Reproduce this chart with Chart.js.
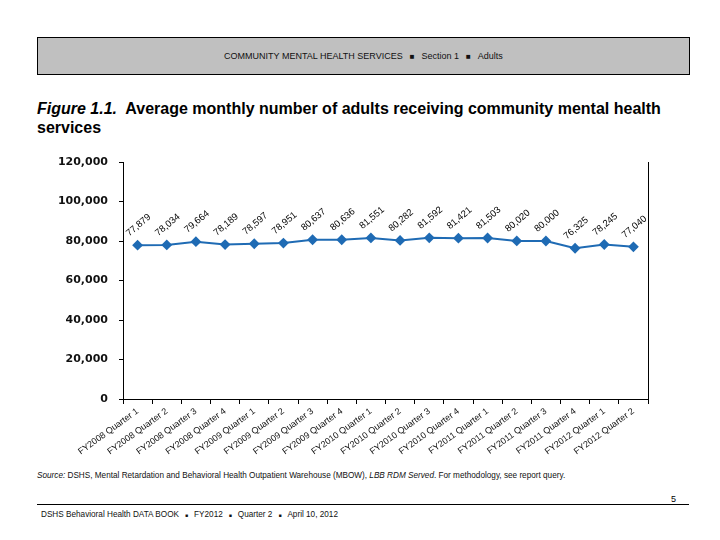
<!DOCTYPE html>
<html>
<head>
<meta charset="utf-8">
<script src="https://cdn.jsdelivr.net/npm/chart.js@4.4.1/dist/chart.umd.min.js"></script>
<style>
    body { margin: 0; width: 720px; height: 540px; background: #fff; position: relative; font-family: "Liberation Sans", Arial, sans-serif; overflow: hidden; }
    #header { position: absolute; left: 37px; top: 37px; width: 651px; height: 36px; background: #c0c0c0; border: 1px solid #000; font-size: 9px; line-height: 36px; text-align: center; color: #111; }
    #header .sq { font-size: 8px; margin: 0 7px; }
    #titulo { position: absolute; left: 37px; top: 99px; width: 640px; font-size: 16px; font-weight: bold; line-height: 19px; color: #000; }
    #grafico { position: absolute; left: 0; top: 140px; }
    #fuente { position: absolute; left: 37px; top: 471px; font-size: 8.2px; color: #111; }
    #linea { position: absolute; left: 37px; top: 504px; width: 652px; border-top: 1px solid #000; }
    #pagina { position: absolute; left: 671px; top: 494px; font-size: 9px; }
    #pie { position: absolute; left: 41px; top: 510px; font-size: 8.2px; color: #111; }
    #pie .sq { font-size: 5px; margin: 0 6px; vertical-align: middle; }
</style>
</head>
<body>
<div id="header">COMMUNITY MENTAL HEALTH SERVICES<span class="sq">&#9632;</span>Section 1<span class="sq">&#9632;</span>Adults</div>
<div id="titulo"><i>Figure 1.1.</i>&nbsp; Average monthly number of adults receiving community mental health services</div>
<canvas id="grafico" width="720" height="320"></canvas>
<div id="fuente"><i>Source:</i> DSHS, Mental Retardation and Behavioral Health Outpatient Warehouse (MBOW), <i>LBB RDM Served</i>. For methodology, see report query.</div>
<div id="linea"></div>
<div id="pagina">5</div>
<div id="pie">DSHS Behavioral Health DATA BOOK<span class="sq">&#9632;</span>FY2012<span class="sq">&#9632;</span>Quarter 2<span class="sq">&#9632;</span>April 10, 2012</div>
<script>
const trimestres = [
    "FY2008 Quarter 1", "FY2008 Quarter 2", "FY2008 Quarter 3", "FY2008 Quarter 4",
    "FY2009 Quarter 1", "FY2009 Quarter 2", "FY2009 Quarter 3", "FY2009 Quarter 4",
    "FY2010 Quarter 1", "FY2010 Quarter 2", "FY2010 Quarter 3", "FY2010 Quarter 4",
    "FY2011 Quarter 1", "FY2011 Quarter 2", "FY2011 Quarter 3", "FY2011 Quarter 4",
    "FY2012 Quarter 1", "FY2012 Quarter 2"
]
const adultosAtendidos = [
    77879, 78034, 79664, 78189, 78597, 78951, 80637, 80636, 81551,
    80282, 81592, 81421, 81503, 80020, 80000, 76325, 78245, 77040
]
const ejeYMin = 0
const ejeYMax = 120000
const ejeYPaso = 20000

const azul = '#1f6bb4'

// etiquetas de valor giradas sobre cada punto
const etiquetasValor = {
    id: 'etiquetasValor',
    afterDatasetsDraw(chart) {
        const ctx = chart.ctx
        const meta = chart.getDatasetMeta(0)
        ctx.save()
        ctx.font = '9.5px "Liberation Sans", Arial, sans-serif'
        ctx.fillStyle = '#000'
        ctx.textAlign = 'center'
        ctx.textBaseline = 'middle'
        meta.data.forEach((punto, i) => {
            ctx.save()
            ctx.translate(punto.x + 1, punto.y - 20)
            ctx.rotate(-40 * Math.PI / 180)
            ctx.fillText(adultosAtendidos[i].toLocaleString('en-US'), 0, 0)
            ctx.restore()
        })
        ctx.restore()
    }
}

// linea del borde derecho del area
const bordeDerecho = {
    id: 'bordeDerecho',
    afterDraw(chart) {
        const a = chart.chartArea
        const ctx = chart.ctx
        ctx.save()
        ctx.strokeStyle = '#000'
        ctx.lineWidth = 1
        ctx.beginPath()
        ctx.moveTo(a.right + 0.5, a.top)
        ctx.lineTo(a.right + 0.5, a.bottom)
        ctx.stroke()
        ctx.restore()
    }
}

document.addEventListener("DOMContentLoaded", function () {
    const lienzo = document.getElementById('grafico').getContext('2d')
    new Chart(lienzo, {
        type: 'line',
        data: {
            labels: trimestres,
            datasets: [{
                data: adultosAtendidos,
                borderColor: azul,
                backgroundColor: azul,
                borderWidth: 2,
                pointStyle: 'rectRot',
                pointRadius: 4,
                pointBackgroundColor: azul,
                pointBorderColor: azul,
                tension: 0
            }]
        },
        options: {
            responsive: false,
            animation: false,
            layout: { padding: { top: 22, right: 72, left: 0, bottom: 0 } },
            plugins: {
                legend: { display: false },
                tooltip: { enabled: false }
            },
            scales: {
                x: {
                    offset: true,
                    grid: { display: true, drawOnChartArea: false, offset: true, color: '#000', tickLength: 5 },
                    border: { display: true, color: '#000', width: 1 },
                    ticks: {
                        autoSkip: false,
                        minRotation: 36,
                        maxRotation: 36,
                        padding: 2,
                        color: '#111',
                        font: { family: '"Liberation Sans", Arial, sans-serif', size: 9 }
                    },
                    afterFit(scale) { scale.height = 61 }
                },
                y: {
                    min: ejeYMin,
                    max: ejeYMax,
                    grid: { display: true, drawOnChartArea: false, color: '#000', tickLength: 4 },
                    border: { display: true, color: '#000', width: 1 },
                    ticks: {
                        stepSize: ejeYPaso,
                        padding: 11,
                        color: '#111',
                        font: { family: '"DejaVu Sans", sans-serif', size: 11, weight: 'bold' },
                        callback: v => v.toLocaleString('en-US')
                    },
                    afterFit(scale) { scale.width = 123 }
                }
            }
        },
        plugins: [etiquetasValor, bordeDerecho]
    })
})
</script>
</body>
</html>
